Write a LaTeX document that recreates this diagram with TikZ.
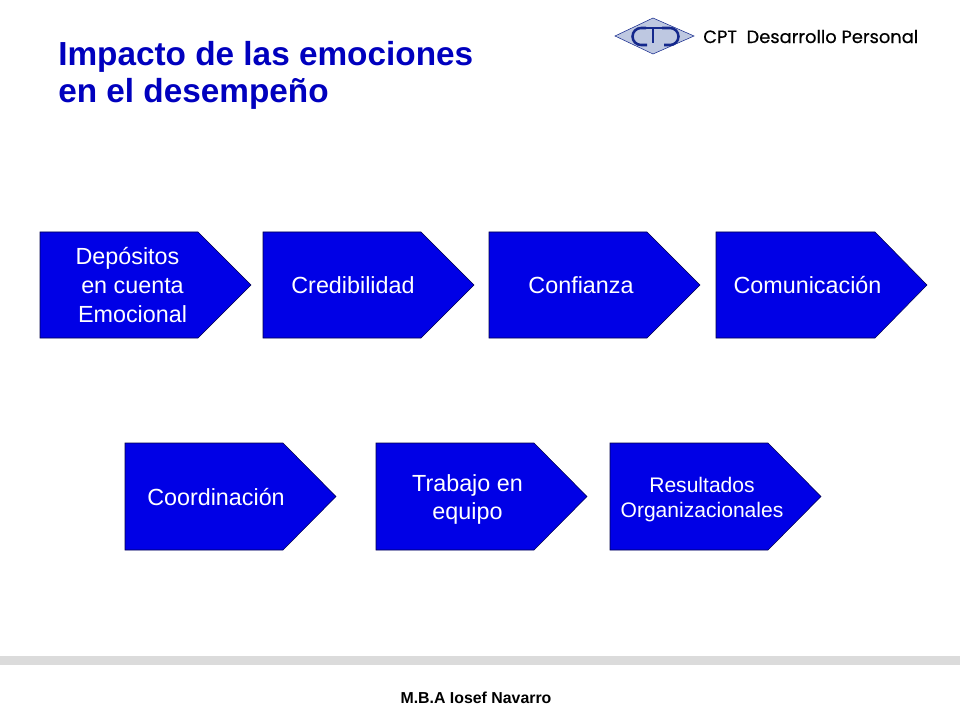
\documentclass[tikz,border=0pt]{standalone}
\usepackage{fontspec}
\setmainfont{Liberation Sans}
\newfontfamily\cptfont[BoldFont=Poppins,BoldFeatures={FakeBold=0.4}]{Poppins}
\usepackage{tikz}
\definecolor{boxblue}{RGB}{0,0,230}
\definecolor{titleblue}{RGB}{0,0,190}
\definecolor{logoblue}{RGB}{20,40,140}
\definecolor{logofill}{RGB}{190,200,225}
\tikzset{
  flowbox/.style={fill=boxblue,draw=black!70!blue,thin},
  flowtext/.style={text=white,font=\fontsize{17.5}{21.75}\selectfont,align=center,inner sep=0pt},
  titletext/.style={text=titleblue,font=\fontsize{25}{27.75}\selectfont\bfseries,align=left,inner sep=0pt,anchor=west},
  logoline/.style={logoblue,line width=1.9pt}
}
\begin{document}
\begin{tikzpicture}[x=0.75pt,y=-0.75pt]
\useasboundingbox (0,0) rectangle (960,720);
\fill[white] (0,0) rectangle (960,720);
\fill[black!14] (0,656) rectangle (960,665);
% logo
\draw[fill=logofill,draw=logoblue,thin] (615,36) -- (653,18) -- (694,36) -- (653,54) -- cycle;
\draw[logoline] (646,28) -- (641,28) arc (270:90:8.5) -- (647,45);
\draw[logoline] (640,28) -- (664,28);
\draw[logoline] (653,28) -- (653,43);
\draw[logoline] (662,28) -- (670,28) arc (-90:90:8.5) -- (664,45);
\node[font=\cptfont\fontsize{13.4}{16}\selectfont\bfseries,anchor=west,inner sep=0pt] (cpt) at (703,36.5) {CPT\ \ Desarrollo Personal};
\node[titletext] (title) at (58,75) {Impacto de las emociones\\en el desempeño};
% first row
\draw[flowbox] (40,232) -- (198,232) -- (251,285) -- (198,338) -- (40,338) -- cycle;
\draw[flowbox] (263,232) -- (421,232) -- (474,285) -- (421,338) -- (263,338) -- cycle;
\draw[flowbox] (489,232) -- (647,232) -- (700,285) -- (647,338) -- (489,338) -- cycle;
\draw[flowbox] (716,232) -- (875,232) -- (927,285) -- (875,338) -- (716,338) -- cycle;
\node[flowtext] (depositos) at (132.5,285) {Depósitos\hspace*{7.5pt}\\en cuenta\\Emocional};
\node[flowtext] (credibilidad) at (353,285) {Credibilidad};
\node[flowtext] (confianza) at (581,285) {Confianza};
\node[flowtext] (comunicacion) at (807.5,285) {Comunicación};
% second row
\draw[flowbox] (125,443) -- (283,443) -- (336,496.5) -- (283,550) -- (125,550) -- cycle;
\draw[flowbox] (376,443) -- (534,443) -- (587,496.5) -- (534,550) -- (376,550) -- cycle;
\draw[flowbox] (610,443) -- (768,443) -- (821,496.5) -- (768,550) -- (610,550) -- cycle;
\node[flowtext] (coordinacion) at (216,497) {Coordinación};
\node[flowtext,font=\fontsize{17.5}{21}\selectfont] (trabajo) at (467.5,499) {Trabajo en\\equipo};
\node[flowtext,font=\fontsize{15.8}{18.75}\selectfont] (resultados) at (702,499.5) {Resultados\\Organizacionales};
\node[font=\fontsize{11.9}{14}\selectfont\bfseries,inner sep=0pt] (autor) at (476,698) {M.B.A Iosef Navarro};
\end{tikzpicture}
\end{document}
